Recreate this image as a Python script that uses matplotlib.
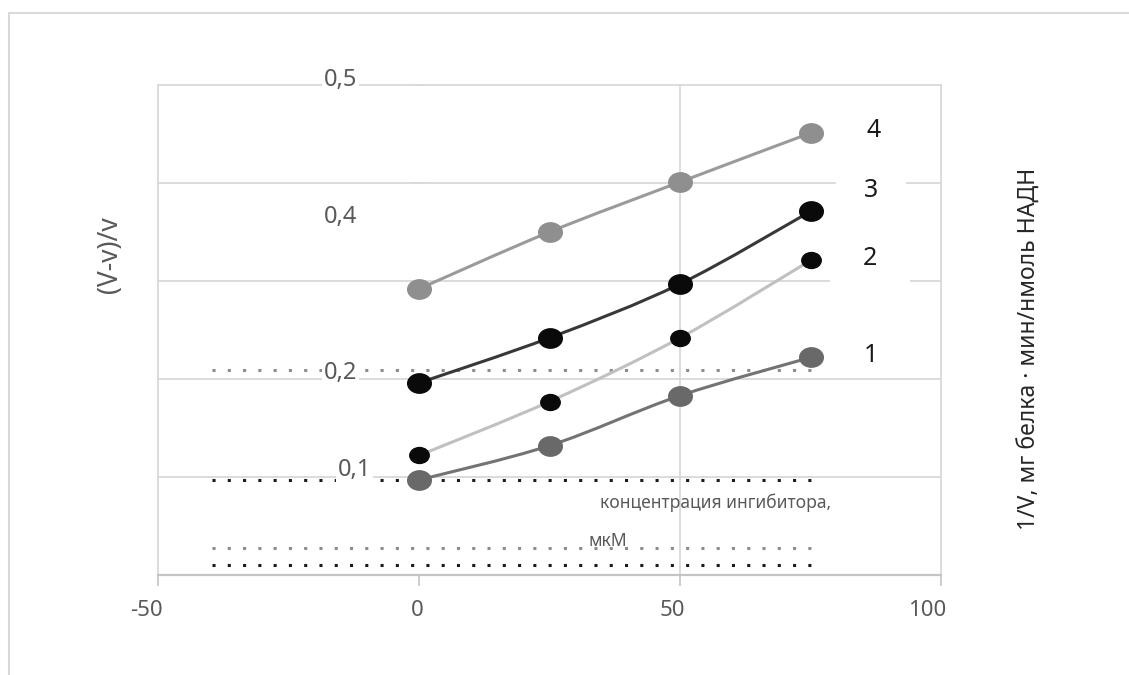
import matplotlib.pyplot as plt
import numpy as np
from matplotlib.path import Path
from matplotlib.patches import PathPatch
from matplotlib.transforms import Affine2D, ScaledTranslation
from matplotlib.lines import Line2D

plt.rcParams['font.family'] = ['Noto Sans', 'DejaVu Sans']

# inhibitor concentration, uM
conc = [0, 25, 50, 75]
# (V-v)/v for the four curves
series_1 = [0.097, 0.132, 0.183, 0.222]
series_2 = [0.122, 0.177, 0.242, 0.321]
series_3 = [0.196, 0.242, 0.297, 0.371]
series_4 = [0.292, 0.350, 0.401, 0.451]
series_names = ['1', '2', '3', '4']

# dotted helper lines drawn across the plot
ref_x = [-39.7, 75]
ref_levels = [0.209, 0.097, 0.0276, 0.0102]

xticks = [-50, 0, 50, 100]
yticks = [0, 0.1, 0.2, 0.3, 0.4, 0.5]
ytick_text = ['0,5', '0,4', '0,2', '0,1']

W, H = 1129, 675
GRID = '#d9d9d9'
TXT = '#595959'


def smooth_path(xs, ys):
    # excel-like smoothed line: bezier segments through the points
    p = np.column_stack([xs, ys]).astype(float)
    n = len(p)
    verts = [p[0]]
    codes = [Path.MOVETO]
    for i in range(n - 1):
        p0 = p[i - 1] if i > 0 else p[i]
        p3 = p[i + 2] if i + 2 < n else p[i + 1]
        c1 = p[i] + (p[i + 1] - p0) / 6
        c2 = p[i + 1] - (p3 - p[i]) / 6
        verts += [c1, c2, p[i + 1]]
        codes += [Path.CURVE4] * 3
    return Path(verts, codes)


fig = plt.figure(figsize=(W / 100, H / 100), dpi=100)

# chart area border (only top/left edge visible in the crop)
fig.add_artist(Line2D([9 / W, 9 / W], [0, 1 - 13 / H], color=GRID, lw=1.5))
fig.add_artist(Line2D([9 / W, 1], [1 - 13 / H, 1 - 13 / H], color=GRID, lw=1.5))

ax = fig.add_axes([158 / W, 1 - 575 / H, (941 - 158) / W, (575 - 85) / H])
ax.set_xlim(-50, 100)
ax.set_ylim(0, 0.5)
ax.set_xticks(xticks)
ax.set_xticklabels([str(t) for t in xticks])
ax.set_yticks(yticks)

for s in ['top', 'right']:
    ax.spines[s].set_visible(False)
ax.spines['left'].set_position(('data', 0))
ax.spines['left'].set_visible(False)
ax.spines['bottom'].set_color('#c4c4c4')
ax.spines['bottom'].set_linewidth(1.6)

ax.tick_params(axis='x', direction='out', length=8, width=1.2, color='#c4c4c4',
               labelsize=16, labelcolor=TXT, pad=10)
ax.tick_params(axis='y', direction='inout', length=9, width=1.2, color=GRID,
               labelleft=False)
shift = ScaledTranslation(5 / 100, 0, fig.dpi_scale_trans)
for lab in ax.get_xticklabels():
    lab.set_horizontalalignment('right')
    lab.set_transform(lab.get_transform() + shift)

ax.grid(True, color=GRID, lw=1.3)
ax.set_axisbelow(True)
for gl, t in zip(ax.get_xgridlines(), xticks):
    gl.set_clip_on(False)
    if t == 0:
        gl.set_visible(False)
for gl in ax.get_ygridlines():
    gl.set_clip_on(False)

# dotted helper lines
ref_colors = ['#8c8c8c', '#1a1a1a', '#8c8c8c', '#1a1a1a']
for lvl, c in zip(ref_levels, ref_colors):
    ax.plot(ref_x, [lvl, lvl], color=c, lw=2.2, ls=(0, (1, 4)),
            dash_capstyle='butt', zorder=1.8)

ellipse = Path.unit_circle().transformed(Affine2D().scale(1.22, 1.0))
styles = [
    dict(line='#737373', face='#696969', ms=17),
    dict(line='#c0c0c0', face='#0a0a0a', ms=14),
    dict(line='#383838', face='#0a0a0a', ms=17),
    dict(line='#9a9a9a', face='#8f8f8f', ms=17),
]
all_series = [series_1, series_2, series_3, series_4]
for ys, st in zip(all_series, styles):
    ax.add_patch(PathPatch(smooth_path(conc, ys), fill=False, edgecolor=st['line'],
                           lw=2.2, zorder=3))
    ax.plot(conc, ys, ls='none', marker=ellipse, ms=st['ms'],
            mfc=st['face'], mec=st['face'], zorder=4)

# curve numbers at the right
name_pos = [(86.6, 0.2235), (86.4, 0.323), (86.6, 0.392), (87.1, 0.454)]
name_pad = [0.1, 1.3, 1.1, 0.1]
for name, (tx, ty), pd in zip(series_names, name_pos, name_pad):
    ax.text(tx, ty, name, fontsize=18, color='#1a1a1a', ha='center', va='center',
            zorder=5, bbox=dict(boxstyle='square,pad=%s' % pd, fc='white', ec='none'))

# value axis labels were placed by hand in the original
ytick_pos = [(-15.0, 0.505), (-15.0, 0.365), (-15.0, 0.206), (-12.3, 0.107)]
for lab, (tx, ty) in zip(ytick_text, ytick_pos):
    ax.text(tx, ty, lab, fontsize=17, color=TXT, ha='center', va='center', zorder=5,
            bbox=dict(boxstyle='square,pad=0.08', fc='white', ec='none'))

ax.text(34.7, 0.0735, 'концентрация ингибитора,', fontsize=12.6, color=TXT,
        ha='left', va='center', zorder=5)
ax.text(32.5, 0.0347, 'мкМ', fontsize=12.6, color=TXT, ha='left', va='center', zorder=5)

fig.text(110 / W, 1 - 255 / H, '(V-v)/v', rotation=90, fontsize=19, color=TXT,
         ha='center', va='center')
fig.text(1030 / W, 1 - 349 / H, '1/V, мг белка · мин/нмоль НАДН', rotation=90,
         fontsize=16.5, color='#262626', ha='center', va='center')

fig.savefig('out.png', dpi=100)
